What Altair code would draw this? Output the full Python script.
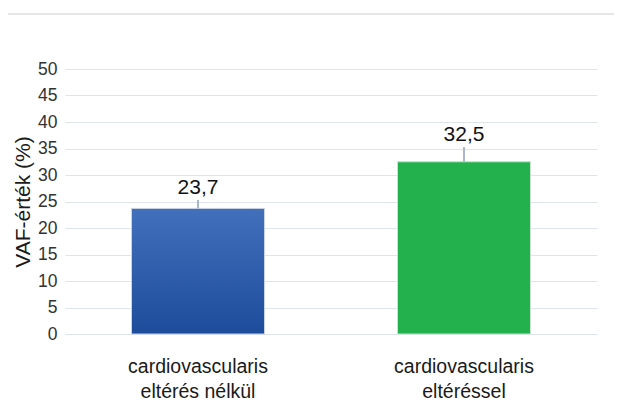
import altair as alt
import pandas as pd

categories = ["cardiovascularis\neltérés nélkül", "cardiovascularis\neltéréssel"]
values = [23.7, 32.5]
errors = [1.6, 2.8]
labels = ["23,7", "32,5"]
keys = ["a", "b"]

df = pd.DataFrame({"cat": categories, "val": values, "err": errors, "lab": labels, "key": keys})
df["top"] = df["val"] + df["err"]

xscale = alt.Scale(domain=categories, paddingInner=0.5, paddingOuter=0.25)
yscale = alt.Scale(domain=[0, 50])

xax = alt.Axis(labelAngle=0, labelFontSize=19.5, labelColor="#1a1a1a",
               labelPadding=23, ticks=False, domain=False, grid=False,
               labelLineHeight=25, labelLimit=400, labelFont="Liberation Sans", title=None)
yax = alt.Axis(values=list(range(0, 51, 5)), labelOverlap=False,
               labelFontSize=17.5, labelColor="#333333", ticks=False, domain=False,
               gridColor="#dde4ec", labelPadding=8, labelFont="Liberation Sans",
               title="VAF-érték (%)",
               titleFontSize=21, titleFontWeight="normal", titleColor="#1a1a1a",
               titlePadding=4, titleFont="Liberation Sans")

X = alt.X("cat:N", sort=categories, scale=xscale, axis=xax)
Yv = alt.Y("val:Q", scale=yscale, axis=yax)
Yt = alt.Y("top:Q", scale=yscale, axis=yax)

base = alt.Chart(df)

blue = base.transform_filter("datum.key == 'a'").mark_bar(
    color=alt.Gradient(gradient="linear", x1=0, y1=0, x2=0, y2=1,
                       stops=[alt.GradientStop(color="#4270bb", offset=0),
                              alt.GradientStop(color="#1d4c9c", offset=1)]),
    stroke="#c9d3e3", strokeWidth=1
).encode(x=X, y=Yv)

green = base.transform_filter("datum.key == 'b'").mark_bar(
    color="#22b14c", stroke="#c9e3cf", strokeWidth=1
).encode(x=X, y=Yv)

err = base.mark_rule(color="#a8b8cf", strokeWidth=2).encode(
    x=X, y=Yv, y2="top:Q")

txt = base.mark_text(fontSize=21, color="#111111", baseline="bottom", dy=-2, font="Liberation Sans").encode(
    x=X, y=Yt, text="lab:N")

topline = alt.Chart(pd.DataFrame({"k": [0]})).mark_rule(color="#e3e6e3", strokeWidth=2).encode(
    x=alt.value(-57), x2=alt.value(557), y=alt.value(-55))

chart = alt.layer(blue, green, err, txt, topline).properties(
    width=532, height=265,
    autosize=alt.AutoSizeParams(type="none"),
    padding={"left": 57, "top": 61, "right": 17, "bottom": 70},
    background="white"
).configure(lineBreak="\n").configure_view(stroke=None)

chart.save("out.html", embed_options={"renderer": "svg", "actions": False})
